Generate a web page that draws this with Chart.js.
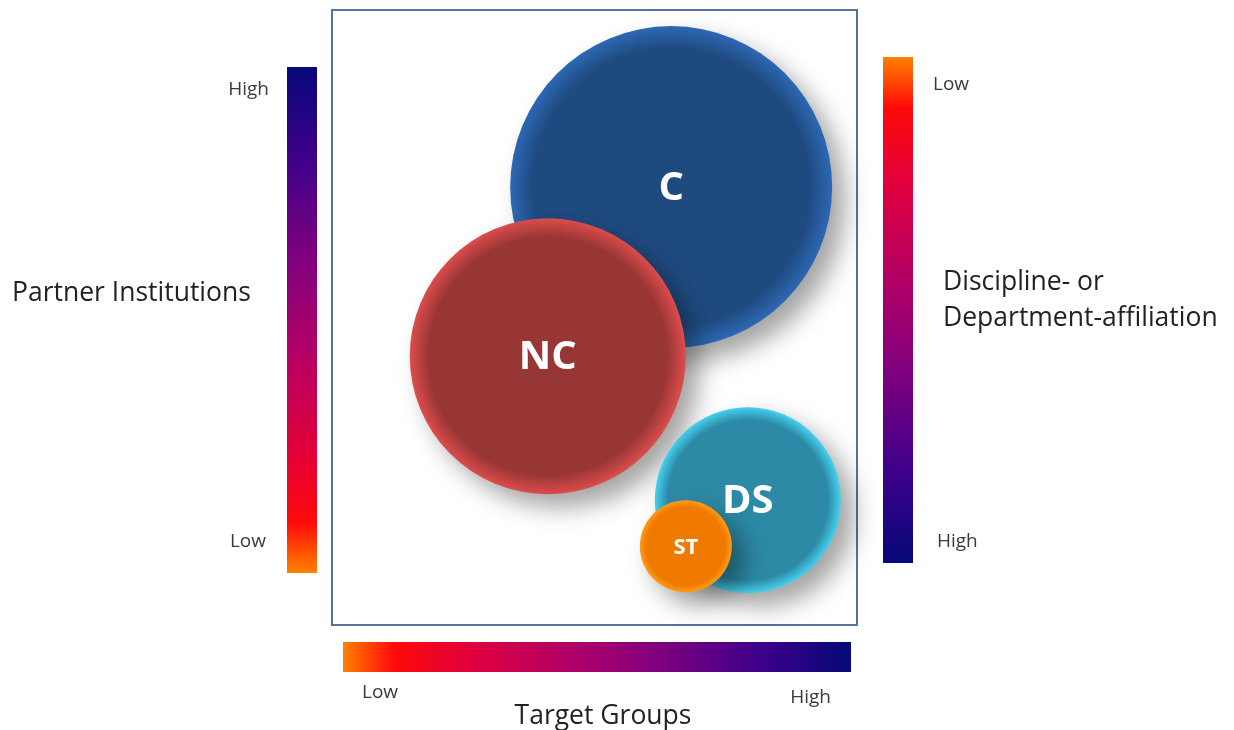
<!DOCTYPE html>
<html>
<head>
<meta charset="utf-8">
<script src="https://cdn.jsdelivr.net/npm/chart.js@4.4.1/dist/chart.umd.min.js"></script>
<style>
  html, body { margin: 0; padding: 0; background: #ffffff; }
  #wrap { width: 1234px; height: 730px; position: relative; }
</style>
</head>
<body>
<div id="wrap"><canvas id="chart" width="1234" height="730"></canvas></div>
<script>
// Profile groups positioned by target groups (x) and partner institutions (y)
const groups = ['C', 'NC', 'DS', 'ST'];
const targetGroups = [64.6, 41.1, 79.2, 67.4];
const partnerInstitutions = [71.2, 43.7, 20.3, 12.8];
const bubbleRadius = [161, 138, 93, 46];

// Inner and rim colours of each bubble
const coreColors = ['#1f4a80', '#973634', '#2c8aa6', '#f07a00'];
const rimColors = ['#2d68b4', '#dc4c4c', '#46d0f0', '#ff9c18'];

// Scale captions
const leftTicks = ['High', 'Low'];
const rightTicks = ['Low', 'High'];
const bottomTicks = ['Low', 'High'];
const leftTitle = 'Partner Institutions';
const rightTitle = ['Discipline- or', 'Department-affiliation'];
const bottomTitle = 'Target Groups';

const FONT = '"Open Sans", Lato, sans-serif';

function spectrum(ctx, x0, y0, x1, y1) {
  const g = ctx.createLinearGradient(x0, y0, x1, y1);
  g.addColorStop(0.00, '#ff8200');
  g.addColorStop(0.10, '#ff0a0a');
  g.addColorStop(0.25, '#e0003c');
  g.addColorStop(0.45, '#b00068');
  g.addColorStop(0.62, '#80007e');
  g.addColorStop(0.80, '#44008a');
  g.addColorStop(1.00, '#06087a');
  return g;
}

function bubbleFill(context) {
  const chart = context.chart;
  const i = context.dataIndex;
  if (!chart.chartArea || !chart.scales.x) return coreColors[i];
  const cx = chart.scales.x.getPixelForValue(targetGroups[i]);
  const cy = chart.scales.y.getPixelForValue(partnerInstitutions[i]);
  const r = bubbleRadius[i];
  const g = chart.ctx.createRadialGradient(cx, cy, 0, cx, cy, r);
  g.addColorStop(0, coreColors[i]);
  g.addColorStop(0.86, coreColors[i]);
  g.addColorStop(1, rimColors[i]);
  return g;
}

const framePlugin = {
  id: 'frame',
  beforeDatasetsDraw(chart) {
    const ctx = chart.ctx;
    const a = chart.chartArea;
    ctx.save();
    // gradient scales
    ctx.fillStyle = spectrum(ctx, 0, 573, 0, 67);
    ctx.fillRect(287, 67, 30, 506);
    ctx.fillStyle = spectrum(ctx, 0, 57, 0, 563);
    ctx.fillRect(883, 57, 30, 506);
    ctx.fillStyle = spectrum(ctx, 343, 0, 851, 0);
    ctx.fillRect(343, 642, 508, 30);

    ctx.fillStyle = '#3a3a3a';
    ctx.textBaseline = 'middle';
    ctx.font = '19px ' + FONT;
    ctx.textAlign = 'right';
    ctx.fillText(leftTicks[0], 269, 90);
    ctx.fillText(leftTicks[1], 266, 542);
    ctx.textAlign = 'left';
    ctx.fillText(rightTicks[0], 933, 85);
    ctx.fillText(rightTicks[1], 937, 542);
    ctx.fillText(bottomTicks[0], 362, 693);
    ctx.textAlign = 'right';
    ctx.fillText(bottomTicks[1], 831, 698);

    ctx.fillStyle = '#222222';
    ctx.font = '26.5px ' + FONT;
    ctx.textAlign = 'left';
    ctx.fillText(leftTitle, 12, 293);
    ctx.fillText(rightTitle[0], 943, 282);
    ctx.fillText(rightTitle[1], 943, 318);
    ctx.textAlign = 'center';
    ctx.fillText(bottomTitle, 603, 716);

    // plot frame
    ctx.strokeStyle = '#56739c';
    ctx.lineWidth = 2;
    ctx.strokeRect(a.left, a.top, a.right - a.left, a.bottom - a.top);
    ctx.restore();
  }
};

const shadowPlugin = {
  id: 'bubbleShadow',
  beforeDatasetDraw(chart) {
    const ctx = chart.ctx;
    ctx.save();
    ctx.shadowColor = 'rgba(0,0,0,0.36)';
    ctx.shadowBlur = 24;
    ctx.shadowOffsetX = 13;
    ctx.shadowOffsetY = 13;
  },
  afterDatasetDraw(chart) {
    chart.ctx.restore();
  }
};

const labelPlugin = {
  id: 'bubbleLabels',
  afterDatasetsDraw(chart) {
    const ctx = chart.ctx;
    const meta = chart.getDatasetMeta(0);
    ctx.save();
    ctx.fillStyle = '#ffffff';
    ctx.textAlign = 'center';
    ctx.textBaseline = 'middle';
    meta.data.forEach((pt, i) => {
      const size = bubbleRadius[i] < 60 ? 22 : 40;
      ctx.font = 'bold ' + size + 'px ' + FONT;
      ctx.fillText(groups[i], pt.x, pt.y + 1);
    });
    ctx.restore();
  }
};

new Chart(document.getElementById('chart'), {
  type: 'bubble',
  data: {
    datasets: [{
      label: 'Groups',
      data: groups.map((g, i) => ({ x: targetGroups[i], y: partnerInstitutions[i], r: bubbleRadius[i] })),
      backgroundColor: bubbleFill,
      borderWidth: 0,
      hoverBorderWidth: 0,
      clip: false
    }]
  },
  options: {
    responsive: false,
    animation: false,
    events: [],
    layout: { autoPadding: false, padding: { left: 332, right: 377, top: 10, bottom: 105 } },
    scales: {
      x: { type: 'linear', min: 0, max: 100, display: false },
      y: { type: 'linear', min: 0, max: 100, display: false }
    },
    plugins: {
      legend: { display: false },
      tooltip: { enabled: false }
    }
  },
  plugins: [framePlugin, shadowPlugin, labelPlugin]
});
</script>
</body>
</html>
